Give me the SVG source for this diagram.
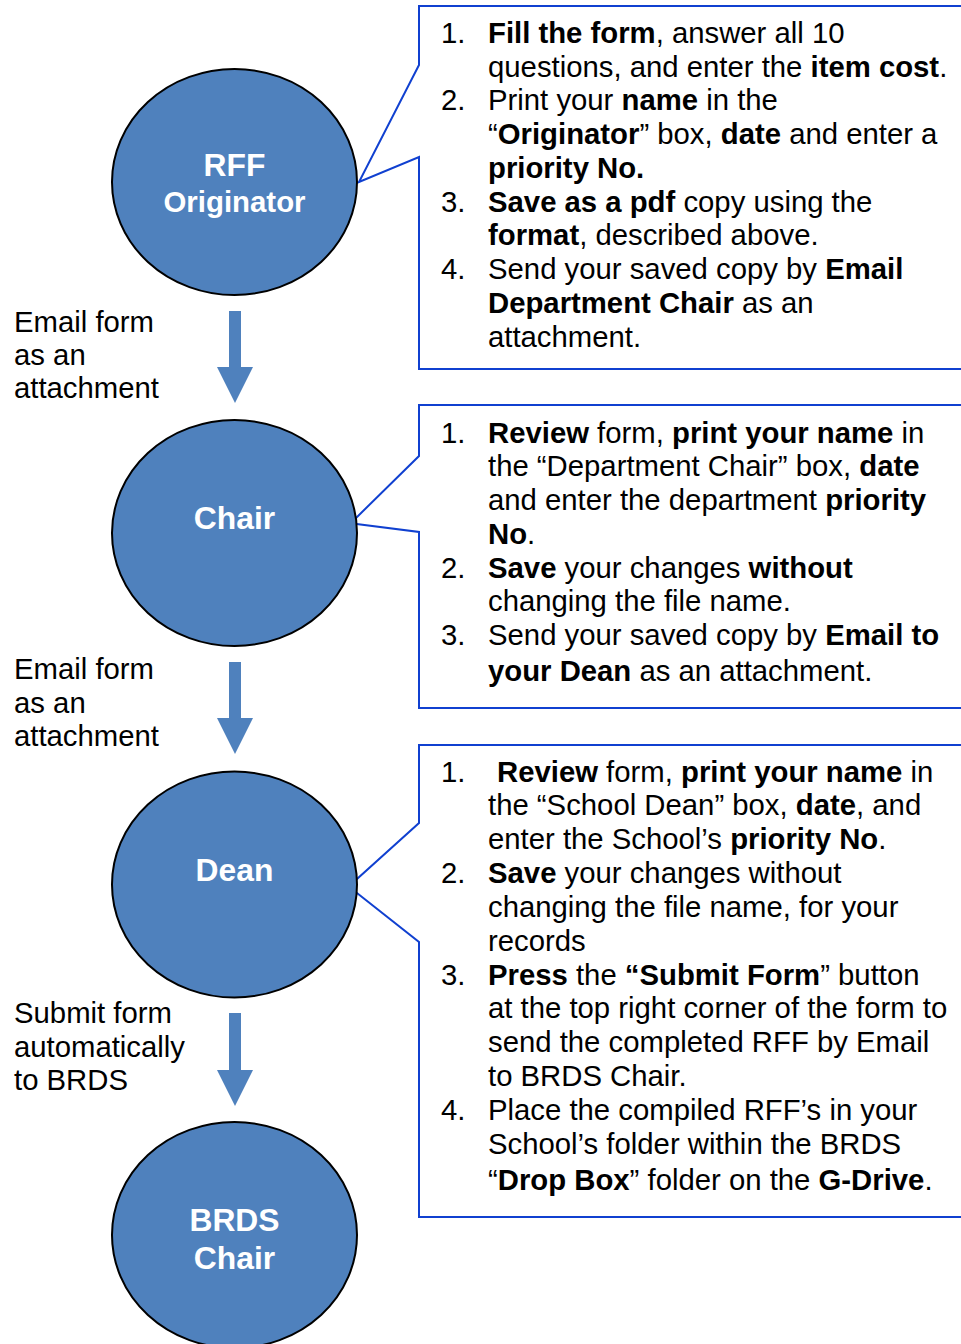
<svg xmlns="http://www.w3.org/2000/svg" width="961" height="1344" viewBox="0 0 961 1344">
<style>
  .callout { fill: #FFFFFF; stroke: #1040D0; stroke-width: 2; stroke-linejoin: miter; }
  .node { fill: #4F81BD; stroke: #000000; stroke-width: 2; }
  .ntxt { font-family: "Liberation Sans", Arial, sans-serif; font-size: 31.8px; font-weight: bold; fill: #FFFFFF; text-anchor: middle; }
  .small { font-size: 29.4px; }
  .t { font-family: "Liberation Sans", Arial, sans-serif; font-size: 29.3px; fill: #000000; }
  .b { font-weight: bold; }
  .arrow { fill: #4F81BD; stroke: none; }
</style>
<rect x="0" y="0" width="961" height="1344" fill="#FFFFFF"/>

<g id="callout-originator">
  <path class="callout" d="M 975 6 H 419 V 65 L 359 182 L 419 157 V 369 H 975"/>
  <text class="t" y="43"><tspan x="441">1.</tspan><tspan x="488" class="b">Fill the form</tspan>, answer all 10</text>
  <text class="t" x="488" y="77">questions, and enter the <tspan class="b">item cost</tspan>.</text>
  <text class="t" y="110"><tspan x="441">2.</tspan><tspan x="488">Print your </tspan><tspan class="b">name</tspan> in the</text>
  <text class="t" x="488" y="144">“<tspan class="b">Originator</tspan>” box, <tspan class="b">date</tspan> and enter a</text>
  <text class="t b" x="488" y="178">priority No.</text>
  <text class="t" y="212"><tspan x="441">3.</tspan><tspan x="488" class="b">Save as a pdf</tspan> copy using the</text>
  <text class="t" x="488" y="245"><tspan class="b">format</tspan>, described above.</text>
  <text class="t" y="279"><tspan x="441">4.</tspan><tspan x="488">Send your saved copy by </tspan><tspan class="b">Email</tspan></text>
  <text class="t" x="488" y="313"><tspan class="b">Department Chair</tspan> as an</text>
  <text class="t" x="488" y="347">attachment.</text>
</g>

<g id="callout-chair">
  <path class="callout" d="M 975 405 H 419 V 456 L 350.7 523.2 L 419 532 V 708 H 975"/>
  <text class="t" y="443"><tspan x="441">1.</tspan><tspan x="488" class="b">Review</tspan> form, <tspan class="b">print your name</tspan> in</text>
  <text class="t" x="488" y="476">the “Department Chair” box, <tspan class="b">date</tspan></text>
  <text class="t" x="488" y="510">and enter the department <tspan class="b">priority</tspan></text>
  <text class="t" x="488" y="544"><tspan class="b">No</tspan>.</text>
  <text class="t" y="578"><tspan x="441">2.</tspan><tspan x="488" class="b">Save</tspan> your changes <tspan class="b">without</tspan></text>
  <text class="t" x="488" y="611">changing the file name.</text>
  <text class="t" y="645"><tspan x="441">3.</tspan><tspan x="488">Send your saved copy by </tspan><tspan class="b">Email to</tspan></text>
  <text class="t" x="488" y="681"><tspan class="b">your Dean</tspan> as an attachment.</text>
</g>

<g id="callout-dean">
  <path class="callout" d="M 975 745 H 419 V 823 L 348.7 886.5 L 419 942 V 1217 H 975"/>
  <text class="t" y="782"><tspan x="441">1.</tspan><tspan x="497" class="b">Review</tspan> form, <tspan class="b">print your name</tspan> in</text>
  <text class="t" x="488" y="815">the “School Dean” box, <tspan class="b">date</tspan>, and</text>
  <text class="t" x="488" y="849">enter the School’s <tspan class="b">priority No</tspan>.</text>
  <text class="t" y="883"><tspan x="441">2.</tspan><tspan x="488" class="b">Save</tspan> your changes without</text>
  <text class="t" x="488" y="917">changing the file name, for your</text>
  <text class="t" x="488" y="951">records</text>
  <text class="t" y="985"><tspan x="441">3.</tspan><tspan x="488" class="b">Press</tspan> the <tspan class="b">“Submit Form</tspan>” button</text>
  <text class="t" x="488" y="1018">at the top right corner of the form to</text>
  <text class="t" x="488" y="1052">send the completed RFF by Email</text>
  <text class="t" x="488" y="1086">to BRDS Chair.</text>
  <text class="t" y="1120"><tspan x="441">4.</tspan><tspan x="488">Place the compiled RFF’s in your</tspan></text>
  <text class="t" x="488" y="1154">School’s folder within the BRDS</text>
  <text class="t" x="488" y="1190">“<tspan class="b">Drop Box</tspan>” folder on the <tspan class="b">G-Drive</tspan>.</text>
</g>

<g id="connectors">
  <polygon class="arrow" points="229,311 241,311 241,367 253,367 235,403 217,367 229,367"/>
  <polygon class="arrow" points="229,662 241,662 241,718 253,718 235,754 217,718 229,718"/>
  <polygon class="arrow" points="229,1013 241,1013 241,1070 253,1070 235,1106 217,1070 229,1070"/>
  <text class="t" x="14" y="332">Email form</text>
  <text class="t" x="14" y="365">as an</text>
  <text class="t" x="14" y="398">attachment</text>
  <text class="t" x="14" y="679">Email form</text>
  <text class="t" x="14" y="713">as an</text>
  <text class="t" x="14" y="746">attachment</text>
  <text class="t" x="14" y="1023">Submit form</text>
  <text class="t" x="14" y="1057">automatically</text>
  <text class="t" x="14" y="1090">to BRDS</text>
</g>

<g id="node-originator">
  <ellipse class="node" cx="234.5" cy="182" rx="122.5" ry="113"/>
  <text class="ntxt" x="234.5" y="176">RFF</text>
  <text class="ntxt small" x="234.5" y="212">Originator</text>
</g>
<g id="node-chair">
  <ellipse class="node" cx="234.5" cy="533" rx="122.5" ry="113"/>
  <text class="ntxt" x="234.5" y="529">Chair</text>
</g>
<g id="node-dean">
  <ellipse class="node" cx="234.5" cy="884.5" rx="122.5" ry="113"/>
  <text class="ntxt" x="234.5" y="881">Dean</text>
</g>
<g id="node-brds">
  <ellipse class="node" cx="234.5" cy="1235" rx="122.5" ry="113"/>
  <text class="ntxt" x="234.5" y="1231">BRDS</text>
  <text class="ntxt" x="234.5" y="1269">Chair</text>
</g>
</svg>
